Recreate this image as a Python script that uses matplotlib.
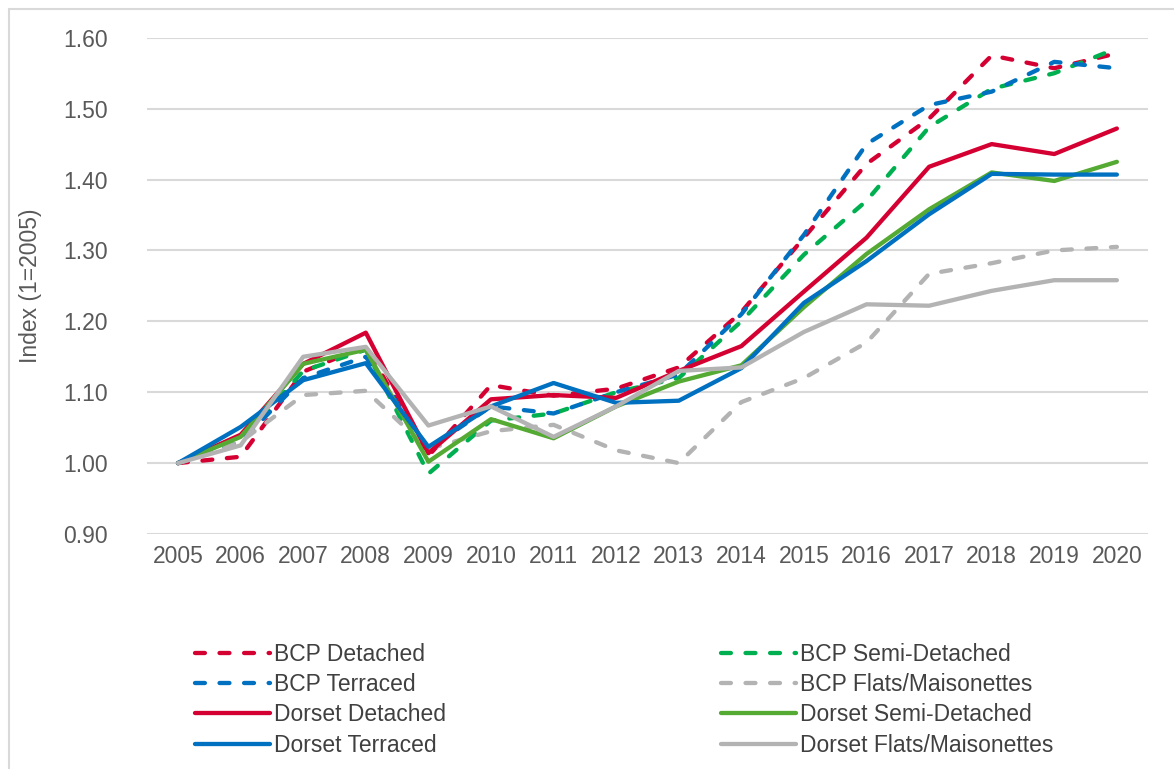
import matplotlib
matplotlib.use('Agg')
from matplotlib import pyplot as plt
from matplotlib.patches import Rectangle

years = list(range(2005, 2021))

bcp_detached = [1.00, 1.009, 1.129, 1.165, 1.010, 1.110, 1.095, 1.105, 1.135, 1.213, 1.318, 1.422, 1.486, 1.575, 1.557, 1.578]
bcp_semi = [1.00, 1.030, 1.130, 1.160, 0.985, 1.060, 1.070, 1.100, 1.120, 1.200, 1.294, 1.370, 1.474, 1.528, 1.550, 1.585]
bcp_terraced = [1.00, 1.030, 1.120, 1.150, 1.020, 1.080, 1.070, 1.100, 1.125, 1.210, 1.322, 1.450, 1.505, 1.524, 1.566, 1.557]
bcp_flats = [1.00, 1.030, 1.096, 1.102, 1.020, 1.045, 1.054, 1.018, 1.000, 1.086, 1.120, 1.170, 1.267, 1.282, 1.300, 1.305]
dorset_detached = [1.00, 1.040, 1.140, 1.184, 1.014, 1.090, 1.096, 1.092, 1.130, 1.165, 1.242, 1.318, 1.418, 1.450, 1.436, 1.472]
dorset_semi = [1.00, 1.037, 1.140, 1.160, 1.002, 1.062, 1.035, 1.080, 1.115, 1.138, 1.220, 1.295, 1.358, 1.410, 1.398, 1.425]
dorset_terraced = [1.00, 1.051, 1.117, 1.141, 1.023, 1.080, 1.113, 1.085, 1.088, 1.134, 1.226, 1.285, 1.351, 1.408, 1.407, 1.407]
dorset_flats = [1.00, 1.025, 1.150, 1.164, 1.053, 1.080, 1.037, 1.080, 1.130, 1.135, 1.185, 1.224, 1.222, 1.243, 1.258, 1.258]

red = '#D50032'
green_d = '#00B050'
green_s = '#55AA33'
blue = '#0070C0'
grey = '#B3B3B3'
txt = '#595959'

plt.rcParams['font.family'] = ['Liberation Sans', 'DejaVu Sans']
plt.rcParams['font.size'] = 16.5

fig = plt.figure(figsize=(11.74, 7.69), dpi=100)
ax = fig.add_axes([0.125, 0.3056, 0.853, 0.6453])

lw = 3.1
dash = dict(linestyle=(0, (2.3, 3.4)), dash_capstyle='round')
series = [
    (bcp_detached, red, True, 'BCP Detached'),
    (bcp_semi, green_d, True, 'BCP Semi-Detached'),
    (bcp_terraced, blue, True, 'BCP Terraced'),
    (bcp_flats, grey, True, 'BCP Flats/Maisonettes'),
    (dorset_detached, red, False, 'Dorset Detached'),
    (dorset_semi, green_s, False, 'Dorset Semi-Detached'),
    (dorset_terraced, blue, False, 'Dorset Terraced'),
    (dorset_flats, grey, False, 'Dorset Flats/Maisonettes'),
]
lines = {}
for vals, col, dashed, name in series:
    if dashed:
        ln, = ax.plot(years, vals, color=col, lw=lw, label=name, **dash)
    else:
        ln, = ax.plot(years, vals, color=col, lw=lw, label=name, solid_capstyle='round')
    lines[name] = ln

ax.set_xlim(2004.5, 2020.5)
ax.set_ylim(0.90, 1.60)
ax.set_yticks([0.90 + 0.1 * i for i in range(8)])
ax.set_yticklabels(['%.2f' % (0.90 + 0.1 * i) for i in range(8)])
ax.set_xticks(years)
ax.set_xticklabels([str(y) for y in years])
ax.grid(axis='y', color='#D9D9D9', lw=1.5)
ax.set_axisbelow(True)
for s in ax.spines.values():
    s.set_visible(False)
ax.tick_params(axis='both', length=0, colors=txt, labelsize=16.5)
ax.tick_params(axis='y', pad=28)
ax.tick_params(axis='x', pad=8)
ax.set_ylabel('Index (1=2005)', color=txt, fontsize=16.5, labelpad=15)

order = ['BCP Detached', 'BCP Terraced', 'Dorset Detached', 'Dorset Terraced',
         'BCP Semi-Detached', 'BCP Flats/Maisonettes', 'Dorset Semi-Detached', 'Dorset Flats/Maisonettes']
leg = fig.legend([lines[n] for n in order], order, ncol=2, frameon=False,
                 loc='upper left', bbox_to_anchor=(0.158, 0.176),
                 handlelength=3.3, handletextpad=0.15, columnspacing=12.0,
                 labelspacing=0.32, fontsize=16.5, borderaxespad=0)
for t in leg.get_texts():
    t.set_color('#404040')

fig.patches.append(Rectangle((9 / 1174, -0.05), 1.2, 1 - 9 / 769 + 0.05,
                             transform=fig.transFigure, fill=False,
                             edgecolor='#D9D9D9', lw=1.5))

plt.savefig('out.png', dpi=100)
plt.close(fig)
